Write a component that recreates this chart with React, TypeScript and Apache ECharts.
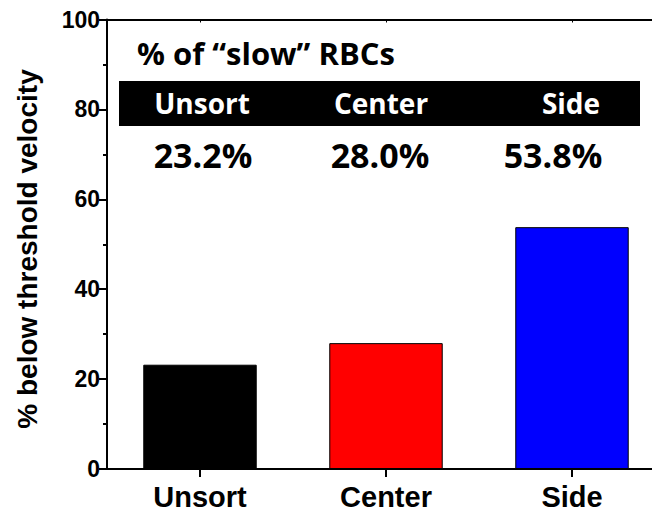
import React, { useEffect, useRef } from "react";
import * as echarts from "echarts";

const categories = ["Unsort", "Center", "Side"];
const values = [23.2, 28.0, 53.8];
const barColors = ["#000000", "#ff0000", "#0000ff"];
const yTicks = [0, 20, 40, 60, 80, 100];
const tableTitle = "% of \u201cslow\u201d RBCs";
const yTitle = "% below threshold velocity";

export default function App() {
  const ref = useRef<HTMLDivElement>(null);
  useEffect(() => {
    if (!ref.current) return;
    const chart = echarts.init(ref.current, null, { renderer: "svg" });
    const axisFont = "'Liberation Sans', Arial, sans-serif";
    const tableFont = "'Open Sans', Lato, sans-serif";
    const headerX = [202, 381, 571];
    const valueX = [203, 380, 553];
    chart.setOption({
      animation: false,
      backgroundColor: "#ffffff",
      grid: { left: 107, right: 15, top: 19.5, bottom: 47, containLabel: false },
      xAxis: [
        {
          type: "category",
          data: categories,
          position: "bottom",
          axisLine: { show: true, lineStyle: { color: "#000", width: 2 } },
          axisTick: { show: true, alignWithLabel: true, inside: false, length: 8, lineStyle: { color: "#000", width: 2 } },
          axisLabel: { color: "#000", fontFamily: axisFont, fontWeight: "bold", fontSize: 29, margin: 13 },
          splitLine: { show: false },
        },
        {
          type: "category",
          data: categories,
          position: "top",
          axisLine: { show: true, lineStyle: { color: "#000", width: 2 } },
          axisTick: { show: true, alignWithLabel: true, inside: true, length: 3, lineStyle: { color: "#000", width: 1 } },
          axisLabel: { show: false },
          splitLine: { show: false },
        },
      ],
      yAxis: {
        type: "value",
        min: yTicks[0],
        max: yTicks[yTicks.length - 1],
        interval: 20,
        axisLine: { show: true, lineStyle: { color: "#000", width: 2 } },
        axisTick: { show: true, inside: false, length: 8, lineStyle: { color: "#000", width: 2 } },
        minorTick: { show: true, splitNumber: 2, length: 4, lineStyle: { color: "#000", width: 2 } },
        axisLabel: { color: "#000", fontFamily: axisFont, fontWeight: "bold", fontSize: 23, margin: 7 },
        splitLine: { show: false },
      },
      series: [
        {
          type: "bar",
          xAxisIndex: 0,
          barWidth: "61%",
          data: values.map((v, i) => ({
            value: v,
            itemStyle: { color: barColors[i], borderColor: "#000", borderWidth: 1 },
          })),
        },
      ],
      graphic: [
        {
          type: "text",
          x: 27,
          y: 249,
          rotation: Math.PI / 2,
          style: { text: yTitle, fill: "#000", font: `bold 28px ${axisFont}`, align: "center", verticalAlign: "middle" },
        },
        {
          type: "text",
          x: 137,
          y: 53,
          style: { text: tableTitle, fill: "#000", font: `bold 31px ${tableFont}`, align: "left", verticalAlign: "middle" },
        },
        {
          type: "rect",
          shape: { x: 119, y: 81, width: 521, height: 45 },
          style: { fill: "#000" },
        },
        ...categories.map((c, i) => ({
          type: "text",
          x: headerX[i],
          y: 103,
          style: { text: c, fill: "#fff", font: `bold 28px ${tableFont}`, align: "center", verticalAlign: "middle" },
        })),
        ...values.map((v, i) => ({
          type: "text",
          x: valueX[i],
          y: 155,
          style: { text: `${v.toFixed(1)}%`, fill: "#000", font: `bold 34px ${tableFont}`, align: "center", verticalAlign: "middle" },
        })),
      ],
    });
    return () => chart.dispose();
  }, []);
  return (
    <div style={{ position: "fixed", left: 0, top: 0, width: 652, height: 516, overflow: "hidden", background: "#fff" }}>
      <div ref={ref} style={{ width: 680, height: 516 }} />
    </div>
  );
}
